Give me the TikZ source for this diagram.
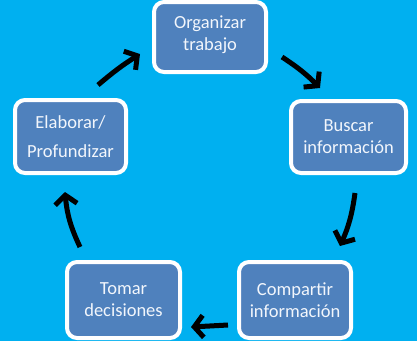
\documentclass[tikz,border=0pt]{standalone}
\usepackage{fontspec}
\setmainfont{Carlito}
\usetikzlibrary{arrows.meta}
\definecolor{bg}{HTML}{00B0F0}
\definecolor{boxblue}{HTML}{4F81BD}
\definecolor{txt}{HTML}{F2F6FC}
\begin{document}
\begin{tikzpicture}[x=1pt,y=1pt,
  stepbox/.style={draw=white, line width=4pt, fill=boxblue, rounded corners=10pt,
    text=txt, font=\fontsize{18.5}{22}\selectfont, align=center, inner sep=0pt},
  flow/.style={line width=5pt, black, -{Straight Barb[length=9pt,width=22pt]}}]
\fill[bg] (0,0) rectangle (417,-341);
\useasboundingbox (0,0) rectangle (417,-341);
\node[stepbox, minimum width=112pt, minimum height=70pt, text depth=8pt] (org) at (210,-37) {Organizar\\trabajo};
\node[stepbox, minimum width=115pt, minimum height=72pt] (bus) at (348.5,-137) {Buscar\\información};
\node[stepbox, minimum width=111pt, minimum height=73pt] (ela) at (70.5,-136.5) {Elaborar/\\[7pt]Profundizar};
\node[stepbox, minimum width=113pt, minimum height=76pt] (tom) at (123.5,-300) {Tomar\\decisiones};
\node[stepbox, minimum width=112pt, minimum height=76pt] (com) at (295,-300) {Compartir\\información};
\coordinate (a1s) at (98,-85);  \coordinate (a1e) at (140,-54);
\coordinate (a2s) at (282,-57); \coordinate (a2e) at (320,-88);
\coordinate (a3s) at (355,-193); \coordinate (a3e) at (340,-246);
\coordinate (a4s) at (228,-325); \coordinate (a4e) at (191,-327);
\coordinate (a5s) at (80,-247); \coordinate (a5e) at (65,-192);
\draw[flow] (a1s) to[bend left=4] (a1e);
\draw[flow] (a2s) to[bend left=6] (a2e);
\draw[flow] (a3s) to[bend left=8] (a3e);
\draw[flow] (a4s) -- (a4e);
\draw[flow] (a5s) to[bend left=10] (a5e);
\end{tikzpicture}
\end{document}
